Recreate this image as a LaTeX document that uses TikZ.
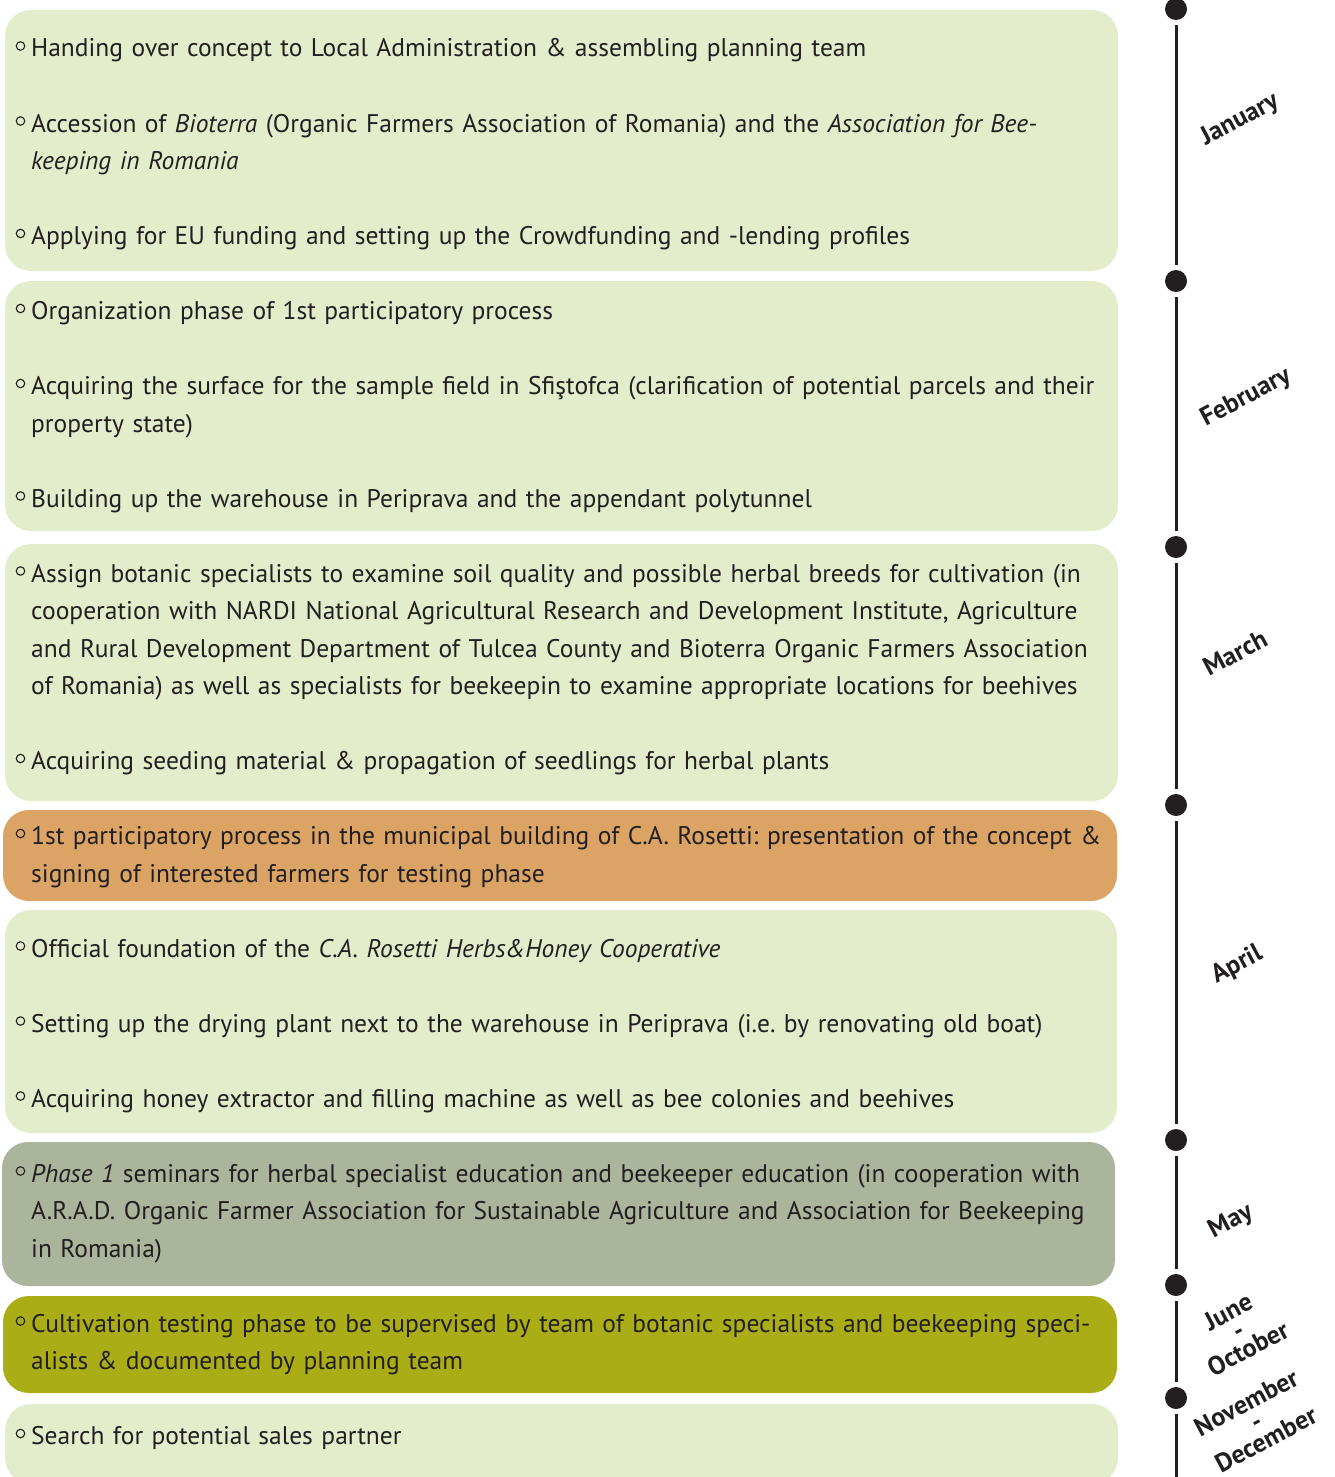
\documentclass[tikz,border=0pt]{standalone}
\usepackage{fontspec}
\setmainfont{PT Sans}[WordSpace=0.8]
\frenchspacing
\usetikzlibrary{positioning}
\definecolor{LeafGreen}{HTML}{E3EDCB}
\definecolor{ClayOrange}{HTML}{DBA465}
\definecolor{SageGray}{HTML}{AAB59C}
\definecolor{OliveMoss}{HTML}{ABAD17}
\definecolor{InkBlack}{HTML}{231F20}

\begin{document}
\begin{tikzpicture}[
    x=1pt, y=1pt,
    phase/.style={rectangle, rounded corners=26pt, fill=#1, draw=none, anchor=north west,
                  inner sep=0pt, outer sep=0pt},
    itm/.style={anchor=base west, text width=1150pt, align=left, inner sep=0pt,
                font=\fontsize{25.5}{37.5}\selectfont, text=InkBlack},
    bul/.style={circle, draw=InkBlack, line width=1.1pt, minimum size=8.5pt, inner sep=0pt},
    dot/.style={circle, fill=InkBlack, minimum size=22pt, inner sep=0pt, outer sep=5pt},
    tl/.style={line width=3pt, InkBlack},
    month/.style={rotate=28, align=center, text=InkBlack, inner sep=0pt,
                  font=\fontsize{26}{21}\selectfont\bfseries}
]
  \useasboundingbox (0,0) rectangle (1334,-1477);

  % Phase boxes
  \node[phase=LeafGreen,  minimum width=1113pt, minimum height=261pt] (p1) at (5,-10) {};
  \node[phase=LeafGreen,  minimum width=1113pt, minimum height=250pt] (p2) at (5,-281) {};
  \node[phase=LeafGreen,  minimum width=1113pt, minimum height=257pt] (p3) at (5,-544) {};
  \node[phase=ClayOrange, minimum width=1114pt, minimum height=91pt]  (p4) at (3,-810) {};
  \node[phase=LeafGreen,  minimum width=1112pt, minimum height=223pt] (p5) at (5,-910) {};
  \node[phase=SageGray,   minimum width=1113pt, minimum height=144pt] (p6) at (2,-1142) {};
  \node[phase=OliveMoss,  minimum width=1114pt, minimum height=97pt]  (p7) at (3,-1296) {};
  \node[phase=LeafGreen,  minimum width=1113pt, minimum height=80pt]  (p8) at (5,-1404) {};

  % Bullets
  \foreach \k in {0,2,5,7,9,12,14,19,21,24,26,28,30,34,37}{
    \node[bul] (o\k) at (20.5,{-46-37.5*\k}) {};
  }

  % Entries
  \node[itm] (t0) at (31,-57) {Handing over concept to Local Administration \& assembling planning team};
  \node[itm] (t2) at (31,-132) {Accession of \textit{Bioterra} (Organic Farmers Association of Romania) and the \textit{Association for Bee-}\\\textit{keeping in Romania}};
  \node[itm] (t5) at (31,-244.5) {Applying for EU funding and setting up the Crowdfunding and -lending profiles};
  \node[itm] (t7) at (31,-319.5) {Organization phase of 1st participatory process};
  \node[itm] (t9) at (31,-394.5) {Acquiring the surface for the sample field in Sfiştofca (clarification of potential parcels and their\\property state)};
  \node[itm] (t12) at (31,-507) {Building up the warehouse in Periprava and the appendant polytunnel};
  \node[itm] (t14) at (31,-582) {Assign botanic specialists to examine soil quality and possible herbal breeds for cultivation (in\\cooperation with NARDI National Agricultural Research and Development Institute, Agriculture\\and Rural Development Department of Tulcea County and Bioterra Organic Farmers Association\\of Romania) as well as specialists for beekeepin to examine appropriate locations for beehives};
  \node[itm] (t19) at (31,-769.5) {Acquiring seeding material \& propagation of seedlings for herbal plants};
  \node[itm] (t21) at (31,-844.5) {1st participatory process in the municipal building of C.A. Rosetti: presentation of the concept \&\\signing of interested farmers for testing phase};
  \node[itm] (t24) at (31,-957) {Official foundation of the \textit{C.A. Rosetti Herbs\&Honey Cooperative}};
  \node[itm] (t26) at (31,-1032) {Setting up the drying plant next to the warehouse in Periprava (i.e. by renovating old boat)};
  \node[itm] (t28) at (31,-1107) {Acquiring honey extractor and filling machine as well as bee colonies and beehives};
  \node[itm] (t30) at (31,-1182) {\textit{Phase 1} seminars for herbal specialist education and beekeeper education (in cooperation with\\A.R.A.D. Organic Farmer Association for Sustainable Agriculture and Association for Beekeeping\\in Romania)};
  \node[itm] (t34) at (31,-1332) {Cultivation testing phase to be supervised by team of botanic specialists and beekeeping speci-\\alists \& documented by planning team};
  \node[itm] (t37) at (31,-1444.5) {Search for potential sales partner};

  % Timeline
  \node[dot] (d1) at (1176,-9) {};
  \node[dot] (d2) at (1176,-281) {};
  \node[dot] (d3) at (1176,-547) {};
  \node[dot] (d4) at (1176,-805) {};
  \node[dot] (d5) at (1176,-1140) {};
  \node[dot] (d6) at (1176,-1285) {};
  \node[dot] (d7) at (1176,-1398) {};
  \coordinate (dend) at (1176,-1480);
  \foreach \a/\b in {d1/d2, d2/d3, d3/d4, d4/d5, d5/d6, d6/d7, d7/dend}{
    \draw[tl] (\a) -- (\b);
  }

  % Months
  \node[month] (m1) at (1240,-120) {January};
  \node[month] (m2) at (1246,-398) {February};
  \node[month] (m3) at (1235,-653) {March};
  \node[month] (m4) at (1237,-965) {April};
  \node[month] (m5) at (1231,-1222) {May};
  \node[month] (m6) at (1238,-1330) {June\\-\\October};
  \node[month] (m7) at (1256,-1421) {November\\-\\December};
\end{tikzpicture}
\end{document}
